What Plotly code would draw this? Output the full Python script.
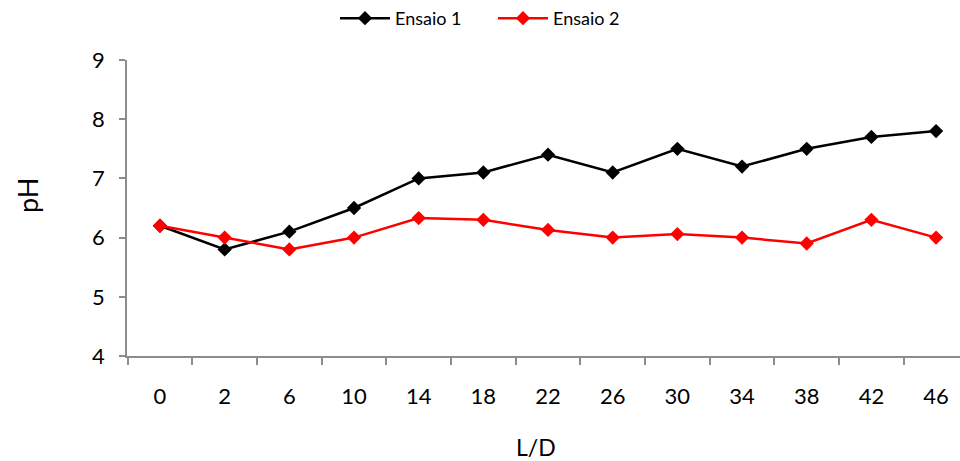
import plotly.graph_objects as go

# L/D categories and pH readings for the two trials
ld_labels = ["0", "2", "6", "10", "14", "18", "22", "26", "30", "34", "38", "42", "46"]
ensaio_1 = [6.2, 5.8, 6.1, 6.5, 7.0, 7.1, 7.4, 7.1, 7.5, 7.2, 7.5, 7.7, 7.8]
ensaio_2 = [6.2, 6.0, 5.8, 6.0, 6.33, 6.3, 6.13, 6.0, 6.06, 6.0, 5.9, 6.3, 6.0]
y_ticks = [4, 5, 6, 7, 8, 9]

FONT = "Lato, 'Open Sans', sans-serif"
AXIS_GREY = "#8c8c8c"

fig = go.Figure()
fig.add_trace(go.Scatter(
    x=ld_labels, y=ensaio_1, name="Ensaio 1", mode="lines+markers",
    line=dict(color="black", width=2.5),
    marker=dict(symbol="diamond", size=11, color="black"),
))
fig.add_trace(go.Scatter(
    x=ld_labels, y=ensaio_2, name="Ensaio 2", mode="lines+markers",
    line=dict(color="#ff0000", width=2.5),
    marker=dict(symbol="diamond", size=11, color="#ff0000"),
))

plot_left, plot_right, plot_top, plot_bottom = 127, 960, 60, 356
pw, ph = plot_right - plot_left, plot_bottom - plot_top

fig.update_layout(
    width=960, height=461,
    margin=dict(l=plot_left, r=960 - plot_right, t=plot_top, b=461 - plot_bottom),
    paper_bgcolor="white", plot_bgcolor="white",
    font=dict(family=FONT, color="black"),
    showlegend=True,
    legend=dict(
        orientation="h", x=(335 - plot_left) / pw, xanchor="left",
        y=1.0, yanchor="top", yref="container",
        font=dict(size=18, family=FONT), tracegroupgap=0,
        entrywidth=93, entrywidthmode="pixels", itemwidth=50,
    ),
    xaxis=dict(
        type="category", range=[-0.51, 12.37],
        showline=True, linecolor=AXIS_GREY, linewidth=1.5,
        ticks="outside", tickson="boundaries", ticklen=7, tickcolor=AXIS_GREY,
        tickwidth=1.5, showgrid=False, zeroline=False,
        tickfont=dict(size=22, family=FONT), ticklabelstandoff=20,
    ),
    yaxis=dict(
        range=[4, 9], tickvals=y_ticks,
        showline=True, linecolor=AXIS_GREY, linewidth=1.5,
        ticks="outside", ticklen=6, tickcolor=AXIS_GREY, tickwidth=1.5,
        showgrid=False, zeroline=False,
        tickfont=dict(size=22, family=FONT), ticklabelstandoff=10,
    ),
    annotations=[
        dict(text="L/D", x=(536 - plot_left) / pw, y=(plot_bottom - 447) / ph,
             xref="paper", yref="paper", xanchor="center", yanchor="middle",
             showarrow=False, font=dict(size=23, family=FONT)),
        dict(text="pH", textangle=-90, x=(27 - plot_left) / pw,
             y=(plot_bottom - 196) / ph, xref="paper", yref="paper",
             xanchor="center", yanchor="middle",
             showarrow=False, font=dict(size=27, family=FONT)),
    ],
)

fig.write_html("out.html")
